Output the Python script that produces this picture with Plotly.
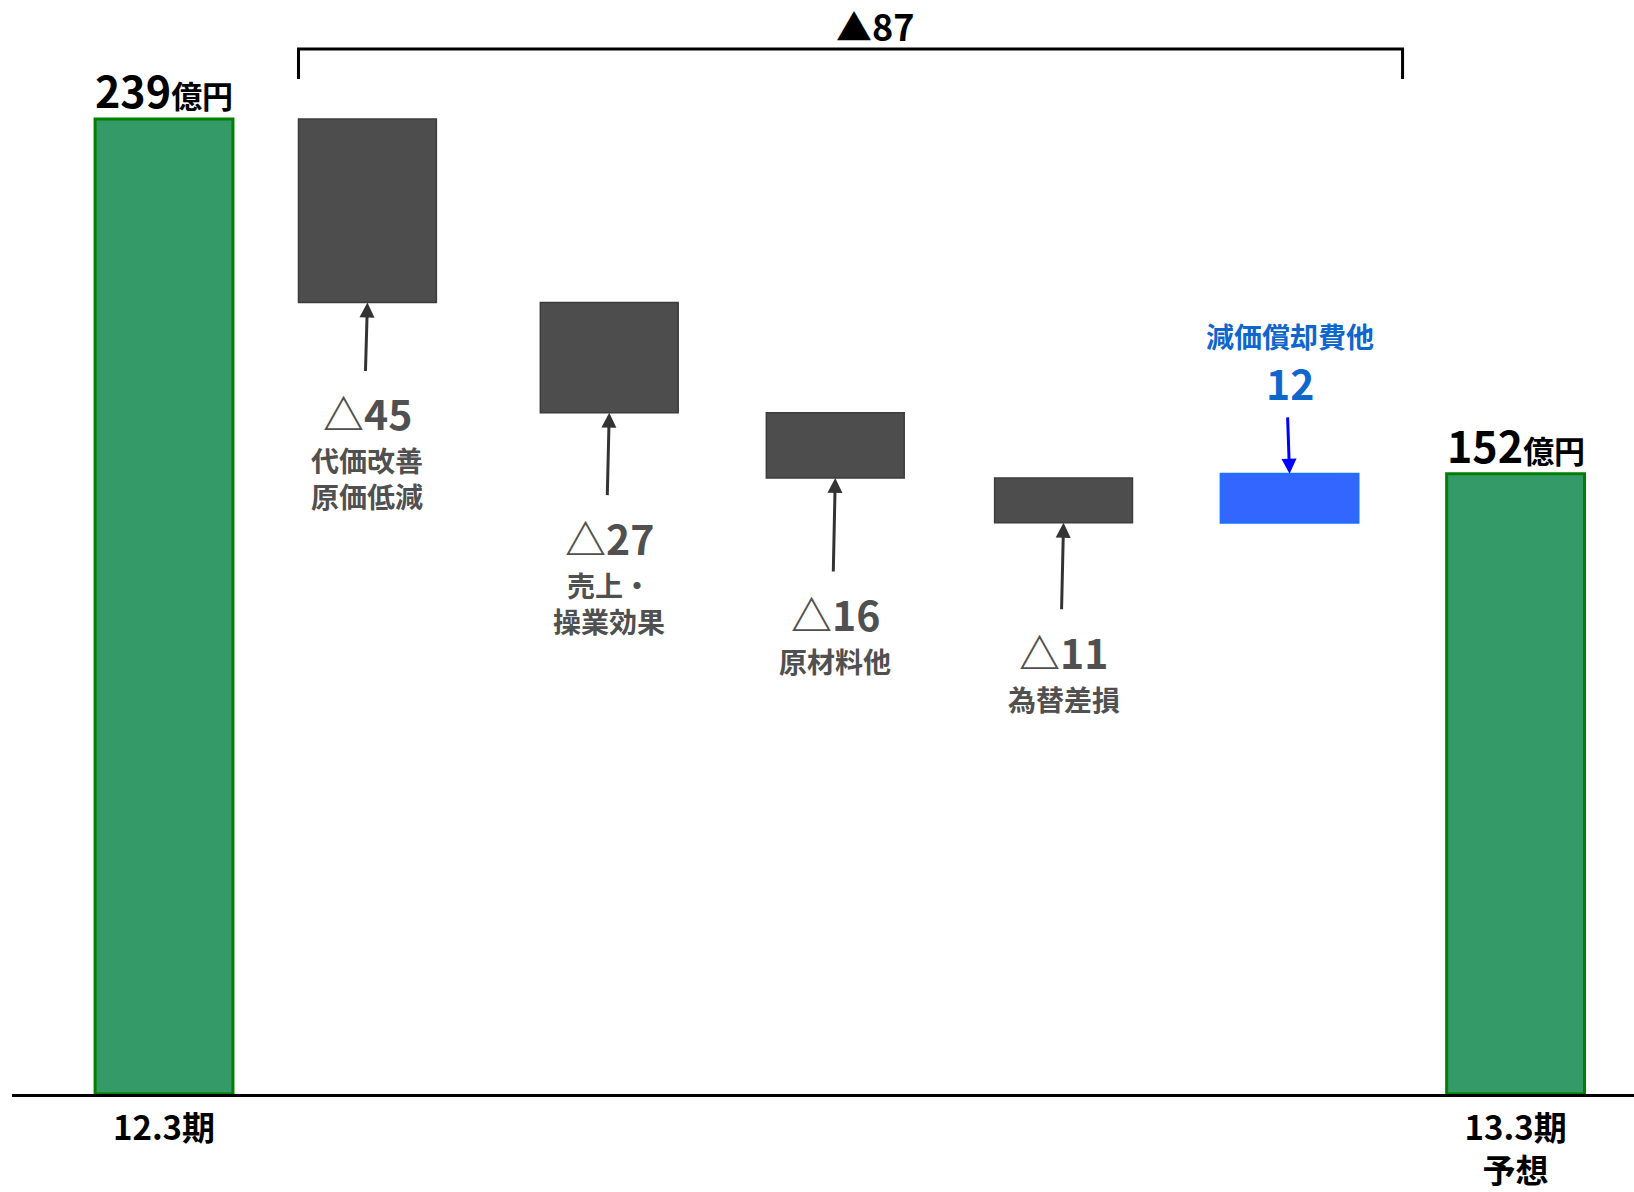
import plotly.graph_objects as go

# 営業利益 増減要因（億円）
period_labels = ["12.3期", "13.3期<br>予想"]
start_value = 239
factor_names = ["代価改善<br>原価低減", "売上・<br>操業効果", "原材料他", "為替差損", "減価償却費他"]
factor_values = [-45, -27, -16, -11, 12]
unit = "億円"

end_value = start_value + sum(factor_values)

# running totals for the waterfall steps
cum = [start_value]
for v in factor_values:
    cum.append(cum[-1] + v)

# ---- layout constants ----
W, H = 1634, 1192
BASE_PX = 1094            # pixel row of the zero line
PX_PER_UNIT = 4.08
X_SLOTS = [0, 0.9, 1.97, 2.97, 3.98, 4.98, 5.98]
BAR_W = 0.61
X_RANGE = [-0.6726, 6.504]
ARROW_LEN = [70, 84, 95, 88]
BLUE_ARROW_LEN = 58

GREEN = "#349A68"
GREEN_EDGE = "#008000"
GRAY = "#4D4D4D"
GRAY_EDGE = "#3C3C3C"
BLUE = "#3366FF"
BLUE_EDGE = "#1A72FF"
LABEL_GRAY = "#505050"
LABEL_BLUE = "#0F66CC"
FONT = "Noto Sans CJK JP"

measures = ["absolute"] + ["relative"] * len(factor_values) + ["total"]
y_vals = [start_value] + factor_values + [0]

fig = go.Figure(
    go.Waterfall(
        x=X_SLOTS,
        y=y_vals,
        measure=measures,
        width=BAR_W,
        connector=dict(visible=False),
        decreasing=dict(marker=dict(color=GRAY, line=dict(color=GRAY_EDGE, width=1.5))),
        increasing=dict(marker=dict(color=BLUE, line=dict(color=BLUE_EDGE, width=2))),
        totals=dict(marker=dict(color=GREEN, line=dict(color=GREEN_EDGE, width=3))),
        textinfo="none",
        hoverinfo="skip",
        showlegend=False,
    )
)

# totals above the green bars
for slot, val in ((X_SLOTS[0], start_value), (X_SLOTS[-1], end_value)):
    fig.add_annotation(
        x=slot, y=val, yanchor="bottom", xanchor="center", yshift=-3, showarrow=False,
        text=f"<b>{val}<span style='font-size:31px'>{unit}</span></b>",
        font=dict(family=FONT, size=43, color="black"),
    )

# decrease factors: arrow up into each bar, value and name underneath
for i, (name, val) in enumerate(zip(factor_names, factor_values), start=1):
    lo, hi = sorted((cum[i - 1], cum[i]))
    slot = X_SLOTS[i]
    if val < 0:
        alen = ARROW_LEN[i - 1]
        fig.add_annotation(
            x=slot, y=lo, text="", showarrow=True, ax=-2, ay=alen,
            arrowhead=2, arrowsize=1, arrowwidth=3, arrowcolor="#333333",
        )
        fig.add_annotation(
            x=slot, y=lo, yanchor="top", xanchor="center", yshift=-(alen + 8), showarrow=False,
            text=f"<b>△{abs(val)}</b>", font=dict(family=FONT, size=41, color=LABEL_GRAY),
        )
        fig.add_annotation(
            x=slot, y=lo, yanchor="top", xanchor="center", yshift=-(alen + 66), showarrow=False,
            text=f"<b>{name}</b>", font=dict(family=FONT, size=28, color=LABEL_GRAY),
        )
    else:
        fig.add_annotation(
            x=slot, y=hi, text="", showarrow=True, ax=-2, ay=-BLUE_ARROW_LEN,
            arrowhead=2, arrowsize=1, arrowwidth=3, arrowcolor="#0000FF",
        )
        fig.add_annotation(
            x=slot, y=hi, yanchor="bottom", xanchor="center", yshift=BLUE_ARROW_LEN + 2, showarrow=False,
            text=f"<b>{val}</b>", font=dict(family=FONT, size=41, color=LABEL_BLUE),
        )
        fig.add_annotation(
            x=slot, y=hi, yanchor="bottom", xanchor="center", yshift=BLUE_ARROW_LEN + 58, showarrow=False,
            text=f"<b>{name}</b>", font=dict(family=FONT, size=28, color=LABEL_BLUE),
        )

# bracket spanning all factors, with the net change
br_left = X_SLOTS[1] - BAR_W / 2
br_right = X_SLOTS[5] + 0.5
br_top = 1 - 49 / BASE_PX
br_bot = 1 - 79 / BASE_PX
fig.add_shape(
    type="path", xref="x", yref="paper",
    path=f"M {br_left},{br_bot} L {br_left},{br_top} L {br_right},{br_top} L {br_right},{br_bot}",
    line=dict(color="black", width=3),
)
fig.add_annotation(
    x=(br_left + br_right) / 2, xshift=24, y=br_top, yref="paper", yanchor="bottom", yshift=-4,
    showarrow=False, text=f"<b>▲{start_value - end_value}</b>",
    font=dict(family=FONT, size=36, color="black"),
)

fig.update_layout(
    width=W, height=H, autosize=False,
    margin=dict(l=12, r=0, t=0, b=H - BASE_PX, pad=0),
    paper_bgcolor="white", plot_bgcolor="white",
    xaxis=dict(
        range=X_RANGE, showgrid=False, zeroline=False, automargin=False,
        showline=True, linecolor="black", linewidth=3,
        tickvals=[X_SLOTS[0], X_SLOTS[-1]],
        ticktext=[f"<b>{p}</b>" for p in period_labels],
        ticks="", ticklabelstandoff=3,
        tickfont=dict(family=FONT, size=33, color="black"),
    ),
    yaxis=dict(range=[0, BASE_PX / PX_PER_UNIT], visible=False, automargin=False),
)

fig.write_html("out.html")
